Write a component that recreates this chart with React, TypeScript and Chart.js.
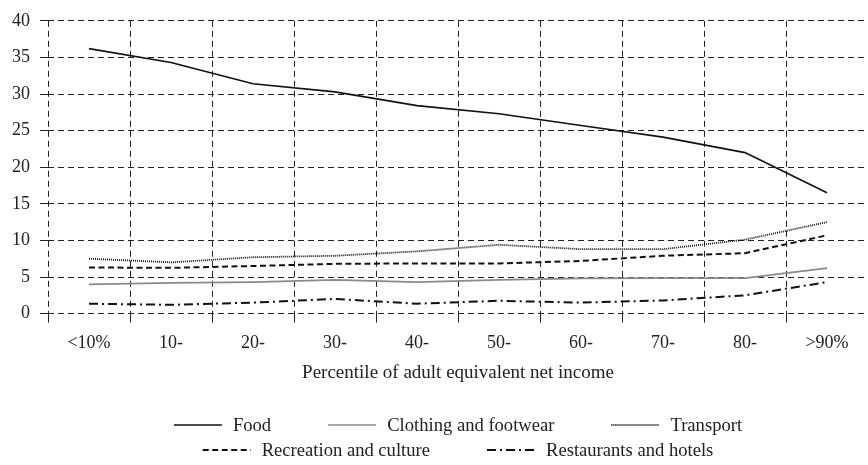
import React, { useEffect, useRef } from "react";
import { Chart, registerables } from "chart.js";

Chart.register(...registerables);

// ---- data ----
const categories = ["<10%", "10-", "20-", "30-", "40-", "50-", "60-", "70-", "80-", ">90%"];
const seriesNames = [
  "Food",
  "Clothing and footwear",
  "Transport",
  "Recreation and culture",
  "Restaurants and hotels",
];
const food = [36.2, 34.3, 31.4, 30.3, 28.4, 27.3, 25.7, 24.1, 22.0, 16.5];
const clothing = [4.0, 4.2, 4.3, 4.6, 4.3, 4.6, 4.8, 4.85, 4.85, 6.2];
const transport = [7.5, 7.0, 7.7, 7.9, 8.5, 9.4, 8.8, 8.8, 10.1, 12.5];
const recreation = [6.3, 6.25, 6.5, 6.8, 6.85, 6.85, 7.2, 7.9, 8.25, 10.7];
const restaurants = [1.35, 1.2, 1.5, 2.0, 1.35, 1.75, 1.5, 1.8, 2.5, 4.3];
const yMin = 0;
const yMax = 40;
const yStep = 5;
const xTitle = "Percentile of adult equivalent net income";

const FONT = "'Liberation Serif', 'Times New Roman', serif";
const TEXT = "#222";
const GRID = "#222";

const legendPlugin = {
  id: "customLegend",
  afterDraw(chart: any) {
    const ctx = chart.ctx as CanvasRenderingContext2D;
    const area = chart.chartArea;
    const cx = (area.left + area.right) / 2;
    const rows = [[0, 1, 2], [3, 4]];
    const rowY = [chart.height - 40, chart.height - 15];
    const lineLen = 48;
    const gap = 11;
    const itemGap = 57;
    ctx.save();
    ctx.font = `18.6px ${FONT}`;
    rows.forEach((row, r) => {
      const y = rowY[r];
      const widths = row.map(
        (i) => lineLen + gap + ctx.measureText(chart.data.datasets[i].label).width
      );
      const total = widths.reduce((a, b) => a + b, 0) + itemGap * (row.length - 1);
      let x = cx - total / 2;
      row.forEach((i, k) => {
        const ds = chart.data.datasets[i];
        ctx.beginPath();
        ctx.setLineDash(ds.borderDash || []);
        ctx.lineWidth = ds.borderWidth;
        ctx.strokeStyle = ds.borderColor;
        ctx.moveTo(x, y);
        ctx.lineTo(x + lineLen, y);
        ctx.stroke();
        ctx.setLineDash([]);
        ctx.fillStyle = TEXT;
        ctx.textBaseline = "middle";
        ctx.textAlign = "left";
        ctx.fillText(ds.label, x + lineLen + gap, y + 1);
        x += widths[k] + itemGap;
      });
    });
    ctx.restore();
  },
};

export default function App() {
  const ref = useRef<HTMLCanvasElement | null>(null);

  useEffect(() => {
    if (!ref.current) return;
    const mk = (label: string, data: number[], color: string, width: number, dash: number[]) => ({
      label,
      data,
      borderColor: color,
      backgroundColor: color,
      borderWidth: width,
      borderDash: dash,
      pointRadius: 0,
      pointHoverRadius: 0,
      tension: 0,
      fill: false,
    });
    const chart = new Chart(ref.current, {
      type: "line",
      data: {
        labels: categories,
        datasets: [
          mk(seriesNames[0], food, "#111", 1.7, []),
          mk(seriesNames[1], clothing, "#8a8a8a", 1.7, []),
          mk(seriesNames[2], transport, "#111", 1.8, [1, 1]),
          mk(seriesNames[3], recreation, "#111", 2, [6, 3.5]),
          mk(seriesNames[4], restaurants, "#111", 2, [9, 4, 2, 4]),
        ],
      },
      options: {
        animation: false,
        responsive: true,
        maintainAspectRatio: false,
        layout: { padding: { left: 2, right: 0, top: 19, bottom: 81 } },
        plugins: {
          legend: { display: false },
          tooltip: { enabled: false },
        },
        scales: {
          x: {
            type: "category",
            offset: true,
            grid: {
              offset: true,
              color: GRID,
              lineWidth: 1,
              tickLength: 9,
              tickColor: GRID,
            },
            border: { display: false, dash: [6, 4] },
            ticks: {
              color: TEXT,
              font: { family: FONT, size: 18 },
              padding: 10,
              maxRotation: 0,
              autoSkip: false,
            },
            title: {
              display: true,
              text: xTitle,
              color: TEXT,
              font: { family: FONT, size: 19 },
              padding: { top: -3, bottom: 0 },
            },
          },
          y: {
            min: yMin,
            max: yMax,
            grid: {
              color: GRID,
              lineWidth: 1,
              tickLength: 8,
              tickColor: GRID,
            },
            border: { display: false, dash: [6, 4] },
            ticks: {
              stepSize: yStep,
              color: TEXT,
              font: { family: FONT, size: 18 },
              padding: 10,
            },
          },
        },
      },
      plugins: [legendPlugin],
    });
    return () => chart.destroy();
  }, []);

  return (
    <div style={{ position: "fixed", left: 0, top: 0, width: 868, height: 465, background: "#fff" }}>
      <canvas ref={ref} />
    </div>
  );
}
